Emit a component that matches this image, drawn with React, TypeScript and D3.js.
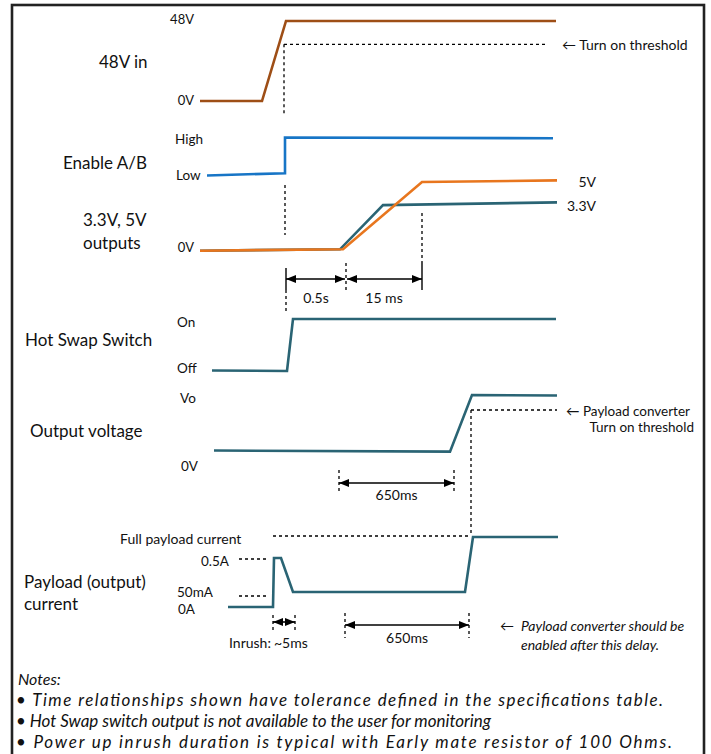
import React from "react";
import * as d3 from "d3";

// ---------- DATA (time in arbitrary units, levels per signal) ----------
const vin48T = [0, 6.2, 8.6, 35.6];
const vin48V = [0, 0, 48, 48];
const vin48Threshold = 34;

const enableT = [0.7, 8.5, 8.5, 35.3];
const enableV = [0, 0.06, 1, 0.98];

const out33T = [0, 14.0, 18.3, 35.7];
const out33V = [-0.05, 0.05, 3.3, 3.5];
const out5T = [0, 14.3, 22.2, 35.7];
const out5V = [-0.05, 0.05, 5, 5.12];

const hotT = [1.2, 8.7, 9.3, 35.6];
const hotV = [0, -0.01, 1, 1];

const voutT = [1.4, 25.0, 27.2, 35.7];
const voutV = [0, -0.02, 1, 0.99];
const voutThreshold = 0.73;

const currT = [2.8, 7.3, 7.4, 8.1, 9.3, 26.5, 27.3, 35.8];
const currV = [0, 0, 0.5, 0.5, 0.05, 0.05, 1, 1];
const currLevels = [0, 0.05, 0.5, 1];

// timing markers
const thr48Time = 8.4;
const enableMarkTime = 8.5;
const startupMarks = [8.6, 14.6, 22.2];
const startupLabels = ["0.5s", "15 ms"];
const voutDelay = [13.9, 25.4];
const voutThrTime = 27.1;
const inrushMarks = [7.3, 9.5];
const currDelay = [14.5, 26.9];
const delayLabel = "650ms";
const levelGuideT = [3.9, 6.7];

const notes = [
  "• Time relationships shown have tolerance  defined in the specifications table.",
  "•  Hot Swap switch output is not available to the user for monitoring",
  "•  Power up inrush duration is typical with Early mate  resistor  of 100 Ohms.",
];
const notesWidth = [647, 475, 656];

// ---------- STYLE ----------
const FONT = "Lato, 'Open Sans', 'DejaVu Sans', sans-serif";
const C_BROWN = "#9E4E16";
const C_BLUE = "#1775C6";
const C_ORANGE = "#E8761E";
const C_TEAL = "#2A6474";
const DASH = "3,3";

const x = d3.scaleLinear().domain([0, 36]).range([200, 560]);
const y48 = d3.scaleLinear().domain([0, 48]).range([101, 21]);
const yEn = d3.scaleLinear().domain([0, 1]).range([175.5, 137.5]);
const yOut = d3.scaleLinear().domain([0, 5]).range([250, 182]);
const yHot = d3.scaleLinear().domain([0, 1]).range([370.5, 319]);
const yVo = d3.scaleLinear().domain([0, 1]).range([450.5, 395]);
const yCur = d3.scaleLinear().domain(currLevels).range([607, 592, 558, 537]);

function path(ts: number[], vs: number[], ys: (v: number) => number) {
  const pts = ts.map((t, i) => [x(t), ys(vs[i])] as [number, number]);
  return d3.line()(pts) || "";
}

const Trace = ({ d, color }: { d: string; color: string }) => (
  <path d={d} fill="none" stroke={color} strokeWidth={2.6} strokeLinejoin="miter" />
);

const VDash = ({ t, y1, y2 }: { t: number; y1: number; y2: number }) => (
  <line x1={x(t)} x2={x(t)} y1={y1} y2={y2} stroke="#000" strokeWidth={1.3} strokeDasharray={DASH} />
);
const HDash = ({ t1, t2, yv }: { t1: number; t2: number; yv: number }) => (
  <line x1={x(t1)} x2={x(t2)} y1={yv} y2={yv} stroke="#000" strokeWidth={1.3} strokeDasharray={DASH} />
);
const Dim = ({ t1, t2, yv }: { t1: number; t2: number; yv: number }) => (
  <line x1={x(t1)} x2={x(t2)} y1={yv} y2={yv} stroke="#000" strokeWidth={1.6}
    markerStart="url(#arr)" markerEnd="url(#arr)" />
);

const T = (p: any) => (
  <text fontFamily={FONT} fill="#111" dominantBaseline="central" {...p} />
);

export default function App() {
  return (
    <svg width={711} height={754} style={{ position: "absolute", left: 0, top: 0, background: "#fff" }}>
      <defs>
        <marker id="arr" viewBox="0 0 10 8" refX={10} refY={4} markerWidth={10} markerHeight={8}
          markerUnits="userSpaceOnUse" orient="auto-start-reverse">
          <path d="M0,0 L10,4 L0,8 z" fill="#000" />
        </marker>
      </defs>
      <rect x={12} y={5} width={692} height={760} fill="#fff" stroke="#222" strokeWidth={2.6} />

      {/* 48V in */}
      <T x={99} y={61} fontSize={17}>48V in</T>
      <T x={194} y={19} fontSize={13} textAnchor="end">48V</T>
      <T x={194} y={100} fontSize={13} textAnchor="end">0V</T>
      <VDash t={thr48Time} y1={y48(vin48Threshold)} y2={115} />
      <HDash t1={thr48Time} t2={34.5} yv={y48(vin48Threshold)} />
      <T x={562} y={y48(vin48Threshold)} fontSize={14}>← Turn on threshold</T>
      <Trace d={path(vin48T, vin48V, y48)} color={C_BROWN} />

      {/* Enable */}
      <T x={63} y={162} fontSize={17}>Enable A/B</T>
      <T x={175} y={139} fontSize={13.5}>High</T>
      <T x={176} y={175} fontSize={13.5}>Low</T>
      <Trace d={path(enableT, enableV, yEn)} color={C_BLUE} />
      <VDash t={enableMarkTime} y1={185} y2={235} />

      {/* 3.3V, 5V outputs */}
      <T x={83} y={219} fontSize={17}>3.3V, 5V</T>
      <T x={83} y={242} fontSize={17}>outputs</T>
      <T x={194} y={247} fontSize={13} textAnchor="end">0V</T>
      <T x={596} y={181} fontSize={14} textAnchor="end">5V</T>
      <T x={596} y={205} fontSize={14} textAnchor="end">3.3V</T>
      <Trace d={path(out33T, out33V, yOut)} color={C_TEAL} />
      <Trace d={path(out5T, out5V, yOut)} color={C_ORANGE} />
      <line x1={x(startupMarks[0])} x2={x(startupMarks[0])} y1={268} y2={290} stroke="#000" strokeWidth={1.4} />
      <VDash t={startupMarks[0]} y1={290} y2={312} />
      <VDash t={startupMarks[1]} y1={263} y2={293} />
      <VDash t={startupMarks[2]} y1={213} y2={262} />
      <line x1={x(startupMarks[2])} x2={x(startupMarks[2])} y1={262} y2={290} stroke="#000" strokeWidth={1.4} />
      <Dim t1={startupMarks[0]} t2={startupMarks[1] - 0.1} yv={279} />
      <Dim t1={startupMarks[1] + 0.1} t2={startupMarks[2]} yv={279} />
      <T x={(x(startupMarks[0]) + x(startupMarks[1])) / 2} y={297} fontSize={14} textAnchor="middle">{startupLabels[0]}</T>
      <T x={(x(startupMarks[1]) + x(startupMarks[2])) / 2} y={297} fontSize={14} textAnchor="middle">{startupLabels[1]}</T>

      {/* Hot swap */}
      <T x={25} y={339} fontSize={17}>Hot Swap Switch</T>
      <T x={177} y={322} fontSize={13.5}>On</T>
      <T x={177} y={368} fontSize={13.5}>Off</T>
      <Trace d={path(hotT, hotV, yHot)} color={C_TEAL} />

      {/* Output voltage */}
      <T x={30} y={430} fontSize={17}>Output voltage</T>
      <T x={180} y={398} fontSize={13.5}>Vo</T>
      <T x={181} y={466} fontSize={13.5}>0V</T>
      <HDash t1={voutThrTime} t2={35.7} yv={yVo(voutThreshold)} />
      <VDash t={voutThrTime} y1={yVo(voutThreshold)} y2={536} />
      <T x={566} y={411} fontSize={13.5}>← Payload converter</T>
      <T x={694} y={427} fontSize={13.5} textAnchor="end">Turn on threshold</T>
      <Trace d={path(voutT, voutV, yVo)} color={C_TEAL} />
      <VDash t={voutDelay[0]} y1={470} y2={491} />
      <VDash t={voutDelay[1]} y1={470} y2={493} />
      <Dim t1={voutDelay[0]} t2={voutDelay[1]} yv={483} />
      <T x={(x(voutDelay[0]) + x(voutDelay[1])) / 2} y={494} fontSize={14} textAnchor="middle">{delayLabel}</T>

      {/* Payload current */}
      <T x={24} y={581} fontSize={17}>Payload (output)</T>
      <T x={24} y={603} fontSize={17}>current</T>
      <T x={120} y={538} fontSize={14}>Full payload current</T>
      <T x={229} y={561} fontSize={13.5} textAnchor="end">0.5A</T>
      <T x={177} y={592} fontSize={13.5}>50mA</T>
      <T x={178} y={609} fontSize={13.5}>0A</T>
      <HDash t1={inrushMarks[0]} t2={voutThrTime - 0.1} yv={yCur(1) - 1} />
      <HDash t1={levelGuideT[0]} t2={levelGuideT[1]} yv={yCur(0.5) + 1} />
      <HDash t1={levelGuideT[0]} t2={levelGuideT[1]} yv={yCur(0.05) + 4} />
      <Trace d={path(currT, currV, yCur)} color={C_TEAL} />
      <VDash t={inrushMarks[0]} y1={615} y2={632} />
      <VDash t={inrushMarks[1]} y1={615} y2={632} />
      <Dim t1={inrushMarks[0]} t2={inrushMarks[1]} yv={622} />
      <T x={229} y={642} fontSize={14}>Inrush:</T>
      <T x={x(inrushMarks[0]) + 1} y={642} fontSize={14}>~5ms</T>
      <VDash t={currDelay[0]} y1={613} y2={638} />
      <VDash t={currDelay[1]} y1={613} y2={638} />
      <Dim t1={currDelay[0]} t2={currDelay[1]} yv={625} />
      <T x={(x(currDelay[0]) + x(currDelay[1])) / 2} y={637} fontSize={14} textAnchor="middle">{delayLabel}</T>
      <T x={500} y={625} fontSize={14}>←</T>
      <T x={521} y={625} fontSize={14} fontStyle="italic">Payload converter  should be</T>
      <T x={521} y={644} fontSize={14} fontStyle="italic">enabled after this delay.</T>

      {/* Notes */}
      <T x={18} y={678} fontSize={16} fontStyle="italic">Notes:</T>
      {notes.map((n, i) => (
        <T key={i} x={16} y={699 + i * 21} fontSize={17} fontStyle="italic"
          textLength={notesWidth[i]} lengthAdjust="spacing">{n}</T>
      ))}
    </svg>
  );
}
